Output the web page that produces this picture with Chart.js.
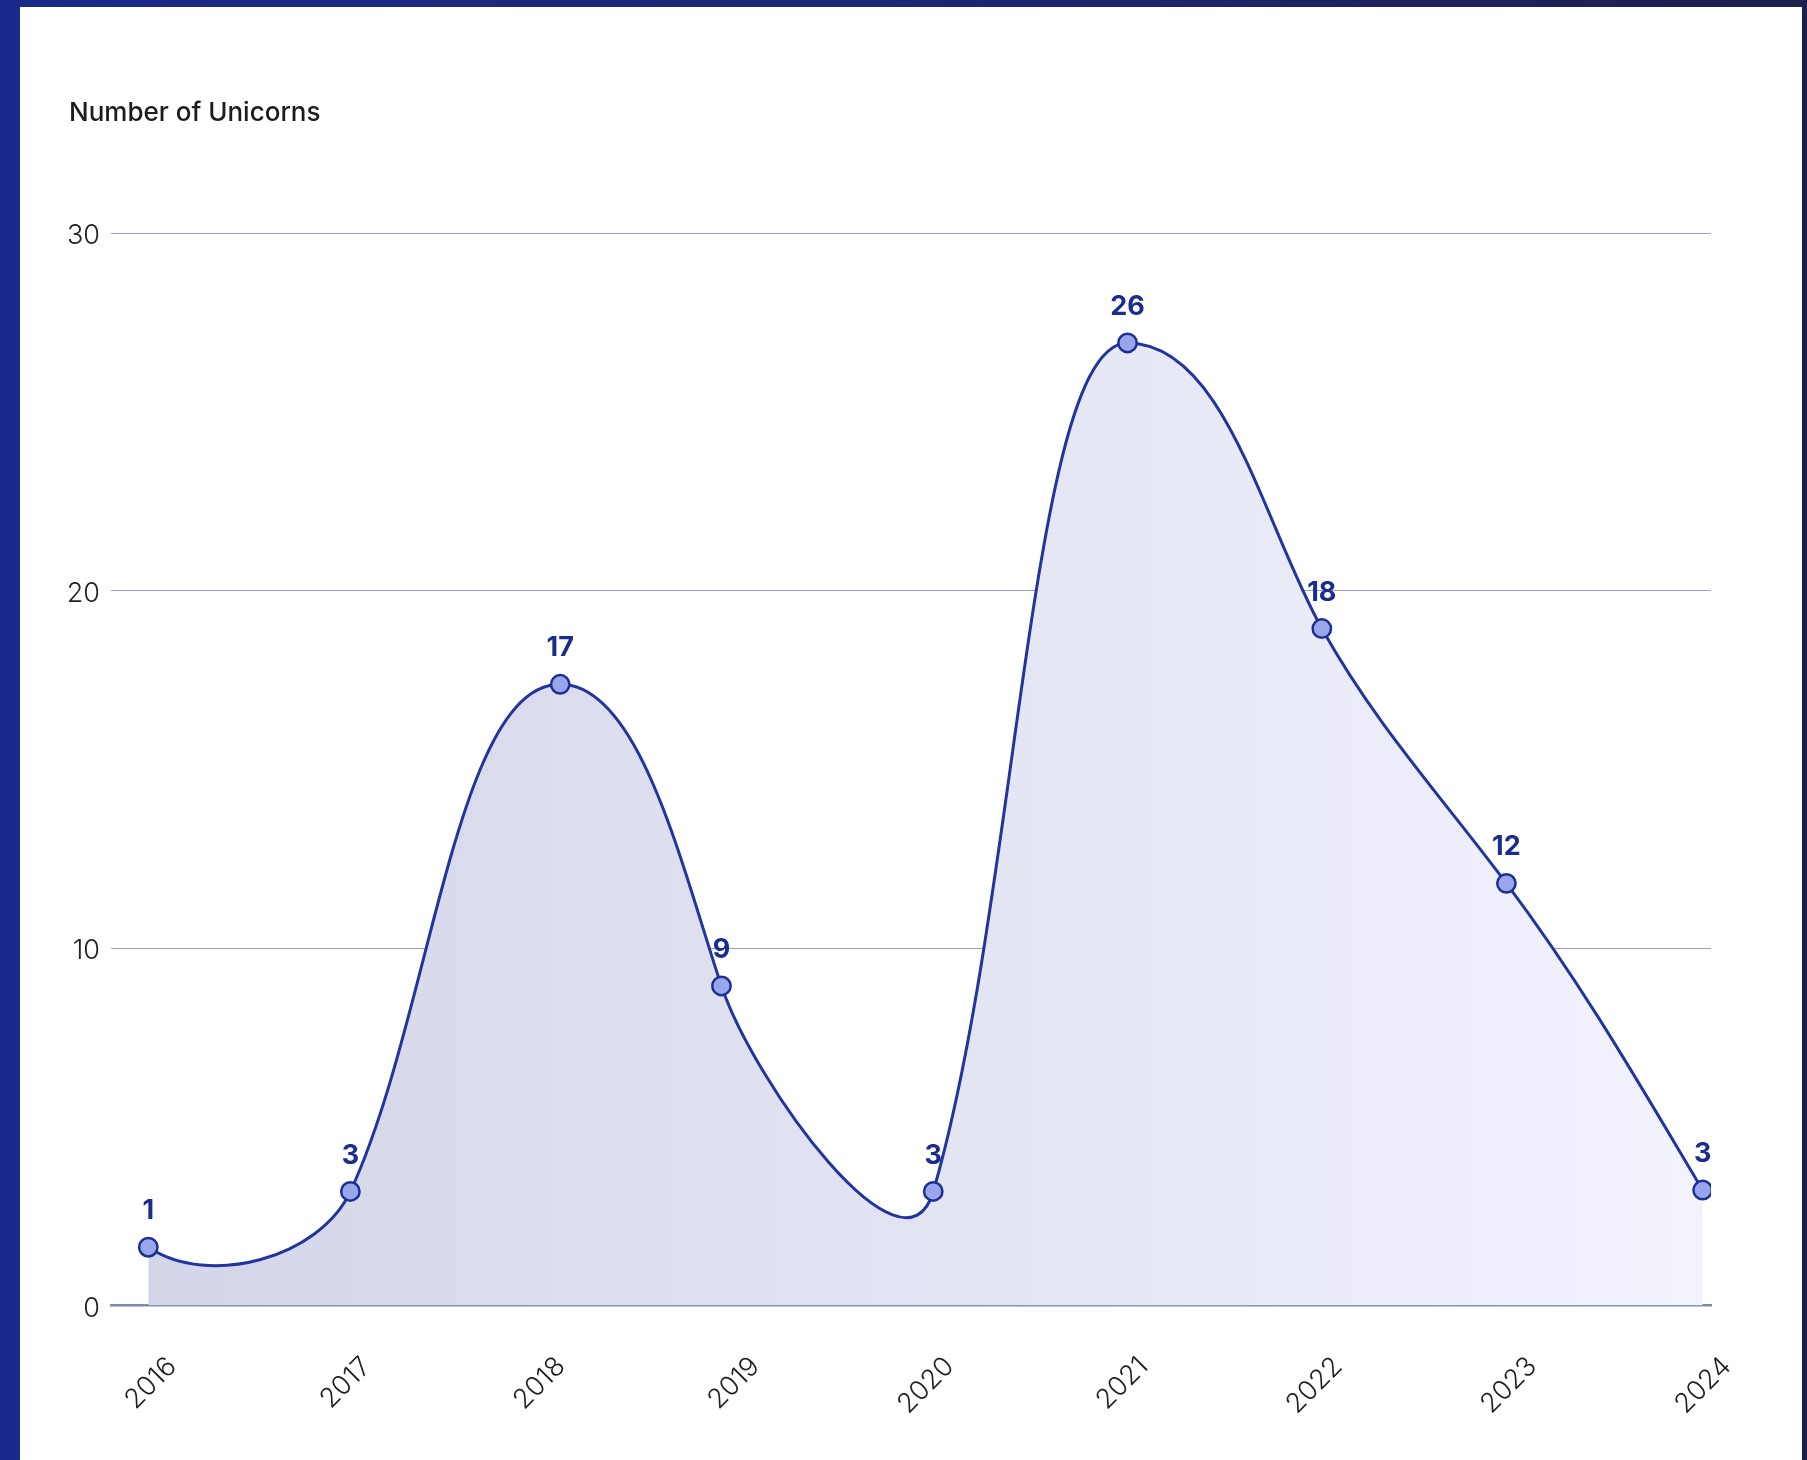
<!DOCTYPE html>
<html><head><meta charset="utf-8">
<script src="https://cdn.jsdelivr.net/npm/chart.js@4"></script>
<style>
html,body{margin:0;padding:0;width:1807px;height:1460px;overflow:hidden;}
body{position:relative;background:linear-gradient(90deg,#1b2a8a 0%,#1d2672 50%,#1f1f4f 100%);}
#panel{position:absolute;left:20px;top:7px;width:1782px;height:1453px;background:#fff;}
#c{position:absolute;left:0;top:0;}
</style></head><body>
<div id="panel"></div>
<canvas id="c" width="1807" height="1460"></canvas>
<script>
// ---- data ----
const years = [2016, 2017, 2018, 2019, 2020, 2021, 2022, 2023, 2024];
const unicornCounts = [1, 3, 17, 9, 3, 26, 18, 12, 3];          // printed labels
const pointYears = [2016.00, 2017.04, 2018.12, 2018.95, 2020.04, 2021.04, 2022.04, 2022.99, 2024.00]; // marker x (in years)
const pointHeights = [1.63, 3.19, 17.38, 8.94, 3.19, 26.93, 18.94, 11.81, 3.23];                   // marker y (as drawn)
const yTicks = [0, 10, 20, 30];
const titleText = 'Number of Unicorns';

const FONT = 'Inter, "Open Sans", sans-serif';

// Smooth curve: slopes from a cubic spline (flat at peaks, natural at the ends),
// handles proportional to the chord length. Applied to Chart.js point control points.
function splineSlopes(xs, ys, fixed) {
  const n = xs.length, h = [], d = [];
  for (let i = 0; i < n - 1; i++) { h[i] = xs[i + 1] - xs[i]; d[i] = (ys[i + 1] - ys[i]) / h[i]; }
  const A = new Array(n).fill(0), B = new Array(n).fill(0), C = new Array(n).fill(0), R = new Array(n).fill(0);
  for (let i = 0; i < n; i++) {
    if (fixed[i] !== null) { B[i] = 1; R[i] = fixed[i]; continue; }
    if (i === 0) { B[0] = 2; C[0] = 1; R[0] = 3 * d[0]; }
    else if (i === n - 1) { A[i] = 1; B[i] = 2; R[i] = 3 * d[n - 2]; }
    else { A[i] = h[i]; B[i] = 2 * (h[i - 1] + h[i]); C[i] = h[i - 1]; R[i] = 3 * (h[i] * d[i - 1] + h[i - 1] * d[i]); }
  }
  for (let i = 1; i < n; i++) { const w = A[i] / B[i - 1]; B[i] -= w * C[i - 1]; R[i] -= w * R[i - 1]; }
  const m = new Array(n);
  m[n - 1] = R[n - 1] / B[n - 1];
  for (let i = n - 2; i >= 0; i--) m[i] = (R[i] - C[i] * m[i + 1]) / B[i];
  return m;
}

const HANDLE = 0.35;
const smoothCurve = {
  id: 'smoothCurve',
  beforeDraw(chart) {
    chart.getSortedVisibleDatasetMetas().forEach(meta => {
      const line = meta.dataset;
      if (!line) return;
      line.updateControlPoints(chart.chartArea, meta.iScale.axis);
      const pts = meta.data, n = pts.length;
      if (n < 3) return;
      const xs = pts.map(p => p.x), ys = pts.map(p => p.y);
      const fixed = ys.map((y, i) => (i > 0 && i < n - 1 && y < ys[i - 1] && y < ys[i + 1]) ? 0 : null);
      const m = splineSlopes(xs, ys, fixed);
      const u = m.map(s => { const l = Math.hypot(1, s); return [1 / l, s / l]; });
      for (let i = 0; i < n - 1; i++) {
        const h = xs[i + 1] - xs[i];
        const chord = Math.hypot(h, ys[i + 1] - ys[i]);
        const L0 = Math.min(HANDLE * chord, (h / 2) / u[i][0]);
        const L1 = Math.min(HANDLE * chord, (h / 2) / u[i + 1][0]);
        pts[i].cp2x = xs[i] + L0 * u[i][0];
        pts[i].cp2y = ys[i] + L0 * u[i][1];
        pts[i + 1].cp1x = xs[i + 1] - L1 * u[i + 1][0];
        pts[i + 1].cp1y = ys[i + 1] - L1 * u[i + 1][1];
      }
      pts[0].cp1x = xs[0]; pts[0].cp1y = ys[0];
      pts[n - 1].cp2x = xs[n - 1]; pts[n - 1].cp2y = ys[n - 1];
    });
  }
};

const valueLabels = {
  id: 'valueLabels',
  afterDatasetsDraw(chart) {
    const ctx = chart.ctx;
    const meta = chart.getDatasetMeta(0);
    ctx.save();
    ctx.font = '700 27px ' + FONT;
    ctx.fillStyle = '#1b2c8f';
    ctx.textAlign = 'center';
    ctx.textBaseline = 'middle';
    meta.data.forEach((pt, i) => {
      ctx.fillText(String(unicornCounts[i]), pt.x, pt.y - 36);
    });
    ctx.restore();
  }
};

new Chart(document.getElementById('c'), {
  type: 'line',
  data: {
    datasets: [{
      data: pointYears.map((x, i) => ({ x: x, y: pointHeights[i] })),
      borderColor: '#22359e',
      borderWidth: 3,
      tension: 0.4,
      fill: 'origin',
      backgroundColor: (c) => {
        const a = c.chart.chartArea;
        if (!a) return '#e2e5f2';
        const g = c.chart.ctx.createLinearGradient(a.left, 0, a.right, 0);
        g.addColorStop(0, '#d2d5e8');
        g.addColorStop(1, '#f2f3fd');
        return g;
      },
      pointRadius: 9.2,
      pointHoverRadius: 9.2,
      pointBackgroundColor: '#98a6ec',
      pointBorderColor: '#1d2f93',
      pointBorderWidth: 2.5
    }]
  },
  options: {
    responsive: false,
    devicePixelRatio: 1,
    animation: false,
    events: [],
    layout: { padding: { left: 69, right: 96, top: 0, bottom: 0 } },
    plugins: {
      legend: { display: false },
      tooltip: { enabled: false },
      title: {
        display: true,
        text: titleText,
        align: 'start',
        color: '#1c1c1c',
        font: { family: FONT, size: 26, weight: '500', lineHeight: 1.2 },
        padding: { top: 98, bottom: 104 }
      }
    },
    scales: {
      x: {
        type: 'linear',
        min: 2015.808,
        max: 2024.043,
        afterBuildTicks: s => { s.ticks = years.map(v => ({ value: v })); },
        afterFit: s => { s.height = 154.5; },
        grid: { display: false, drawTicks: false },
        border: { display: true, color: '#7c89b0', width: 2.5 },
        ticks: {
          autoSkip: false,
          minRotation: 45,
          maxRotation: 45,
          padding: 45,
          labelOffset: 24,
          color: '#222',
          font: { family: FONT, size: 27, weight: '300' },
          callback: v => String(v)
        }
      },
      y: {
        min: 0,
        max: 30,
        afterBuildTicks: s => { s.ticks = yTicks.map(v => ({ value: v })); },
        afterFit: s => { s.width = 42; },
        grid: {
          drawTicks: false,
          color: c => (c.tick && c.tick.value === 0) ? 'rgba(0,0,0,0)' : '#929fcf',
          lineWidth: 1
        },
        border: { display: false },
        ticks: {
          padding: 11,
          labelOffset: 3,
          color: '#222',
          font: { family: FONT, size: 27, weight: '300' },
          callback: v => String(v)
        }
      }
    }
  },
  plugins: [smoothCurve, valueLabels]
});
</script>
</body></html>
